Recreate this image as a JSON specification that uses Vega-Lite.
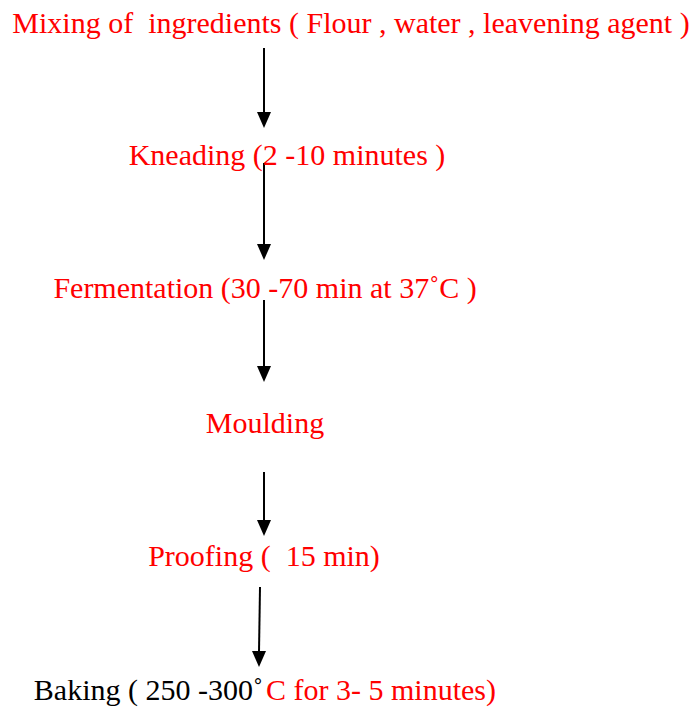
{
  "$schema": "https://vega.github.io/schema/vega-lite/v6.json",
  "width": 695,
  "height": 708,
  "padding": 0,
  "autosize": {"type": "fit", "contains": "padding"},
  "background": "white",
  "config": {"view": {"stroke": null}},
  "datasets": {
    "labels": [
      {"x": 351, "y": 33, "label": "Mixing of \u00a0ingredients ( Flour , water , leavening agent )", "tone": "step", "side": "center"},
      {"x": 287, "y": 165, "label": "Kneading (2 -10 minutes )", "tone": "step", "side": "center"},
      {"x": 265, "y": 298, "label": "Fermentation (30 -70 min at 37˚C )", "tone": "step", "side": "center"},
      {"x": 265, "y": 433, "label": "Moulding", "tone": "step", "side": "center"},
      {"x": 264, "y": 566, "label": "Proofing ( \u00a015 min)", "tone": "step", "side": "center"},
      {"x": 263, "y": 700, "label": "Baking ( 250 -300˚", "tone": "plain", "side": "right"},
      {"x": 266, "y": 700, "label": "C for 3- 5 minutes)", "tone": "step", "side": "left"}
    ],
    "arrows": [
      {"x": 264, "x2": 264, "y": 48, "y2": 114},
      {"x": 264, "x2": 264, "y": 163, "y2": 246},
      {"x": 264, "x2": 264, "y": 300, "y2": 368},
      {"x": 264, "x2": 264, "y": 472, "y2": 522},
      {"x": 260, "x2": 259, "y": 587, "y2": 652}
    ],
    "heads": [
      {"x": 264, "y": 120},
      {"x": 264, "y": 252},
      {"x": 264, "y": 374},
      {"x": 264, "y": 528},
      {"x": 259, "y": 659}
    ]
  },
  "layer": [
    {
      "data": {"name": "arrows"},
      "mark": {"type": "rule", "strokeWidth": 2, "color": "black"},
      "encoding": {
        "x": {"field": "x", "type": "quantitative", "scale": {"domain": [0, 695], "nice": false, "zero": false}, "axis": null},
        "x2": {"field": "x2"},
        "y": {"field": "y", "type": "quantitative", "scale": {"domain": [0, 708], "nice": false, "zero": false, "reverse": true}, "axis": null},
        "y2": {"field": "y2"}
      }
    },
    {
      "data": {"name": "heads"},
      "mark": {"type": "point", "shape": "M-0.875,-1L0.875,-1L0,1Z", "filled": true, "color": "black", "size": 256, "opacity": 1},
      "encoding": {
        "x": {"field": "x", "type": "quantitative"},
        "y": {"field": "y", "type": "quantitative"}
      }
    },
    {
      "data": {"name": "labels"},
      "transform": [{"filter": "datum.side === 'center'"}],
      "mark": {"type": "text", "font": "Liberation Serif", "fontSize": 30, "align": "center", "baseline": "alphabetic"},
      "encoding": {
        "x": {"field": "x", "type": "quantitative"},
        "y": {"field": "y", "type": "quantitative"},
        "text": {"field": "label"},
        "color": {"field": "tone", "type": "nominal", "scale": {"domain": ["step", "plain"], "range": ["#ff0000", "#000000"]}, "legend": null}
      }
    },
    {
      "data": {"name": "labels"},
      "transform": [{"filter": "datum.side === 'right'"}],
      "mark": {"type": "text", "font": "Liberation Serif", "fontSize": 30, "align": "right", "baseline": "alphabetic"},
      "encoding": {
        "x": {"field": "x", "type": "quantitative"},
        "y": {"field": "y", "type": "quantitative"},
        "text": {"field": "label"},
        "color": {"field": "tone", "type": "nominal", "legend": null}
      }
    },
    {
      "data": {"name": "labels"},
      "transform": [{"filter": "datum.side === 'left'"}],
      "mark": {"type": "text", "font": "Liberation Serif", "fontSize": 30, "align": "left", "baseline": "alphabetic"},
      "encoding": {
        "x": {"field": "x", "type": "quantitative"},
        "y": {"field": "y", "type": "quantitative"},
        "text": {"field": "label"},
        "color": {"field": "tone", "type": "nominal", "legend": null}
      }
    }
  ]
}
